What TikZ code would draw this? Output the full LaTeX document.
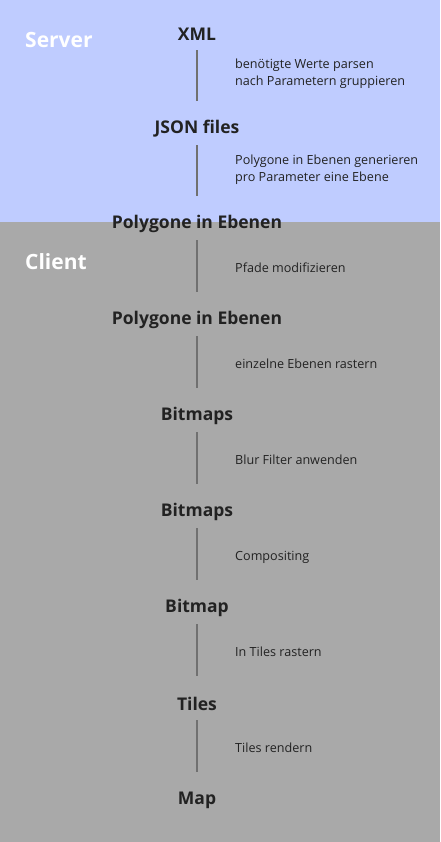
\documentclass[tikz,border=0pt]{standalone}
\usepackage{fontspec}
\setmainfont{Open Sans}
\usetikzlibrary{positioning}

\definecolor{serverblue}{HTML}{BFCCFF}
\definecolor{clientgray}{HTML}{A9A9A9}
\definecolor{textdark}{HTML}{222222}
\definecolor{linegray}{HTML}{707070}

\tikzset{
	stage/.style={font=\fontsize{17.5}{21}\selectfont\bfseries, text=textdark, minimum height=36pt, inner sep=0pt, yshift=-2pt},
	steplabel/.style={font=\fontsize{12.6}{17}\selectfont, text=textdark, anchor=west, align=left, inner sep=0pt},
	region/.style={font=\fontsize{21}{24}\selectfont\bfseries, text=white, anchor=west, inner sep=0pt},
	flow/.style={draw=linegray, line width=1.6pt, shorten <=-2pt, shorten >=10pt}
}

\begin{document}
\begin{tikzpicture}[x=1pt, y=-1pt]
\fill[serverblue] (0,0) rectangle (440,222);
\fill[clientgray] (0,222) rectangle (440,842);
\useasboundingbox (0,0) rectangle (440,842);

\node[region] (server) at (25,40) {Server};
\node[region] (client) at (25,262) {Client};

% stages
\node[stage] (xml)   at (197,32)  {XML};
\node[stage] (json)  at (197,127) {JSON files};
\node[stage] (poly1) at (197,222) {Polygone in Ebenen};
\node[stage] (poly2) at (197,318) {Polygone in Ebenen};
\node[stage] (bmps1) at (197,414) {Bitmaps};
\node[stage] (bmps2) at (197,510) {Bitmaps};
\node[stage] (bmp)   at (197,606) {Bitmap};
\node[stage] (tiles) at (197,702) {Tiles};
\node[stage] (map)   at (197,798) {Map};

% steps
\draw[flow] (xml) -- (json);
\draw[flow] (json) -- (poly1);
\draw[flow] (poly1) -- (poly2);
\draw[flow] (poly2) -- (bmps1);
\draw[flow] (bmps1) -- (bmps2);
\draw[flow] (bmps2) -- (bmp);
\draw[flow] (bmp) -- (tiles);
\draw[flow] (tiles) -- (map);

\node[steplabel] (parse)   at (235,74)  {benötigte Werte parsen\\nach Parametern gruppieren};
\node[steplabel] (gen)     at (235,170) {Polygone in Ebenen generieren\\pro Parameter eine Ebene};
\node[steplabel] (paths)   at (235,268) {Pfade modifizieren};
\node[steplabel] (raster)  at (235,364) {einzelne Ebenen rastern};
\node[steplabel] (blur)    at (235,460) {Blur Filter anwenden};
\node[steplabel] (comp)    at (235,557) {Compositing};
\node[steplabel] (tileras) at (235,652) {In Tiles rastern};
\node[steplabel] (render)  at (235,748) {Tiles rendern};
\end{tikzpicture}
\end{document}
